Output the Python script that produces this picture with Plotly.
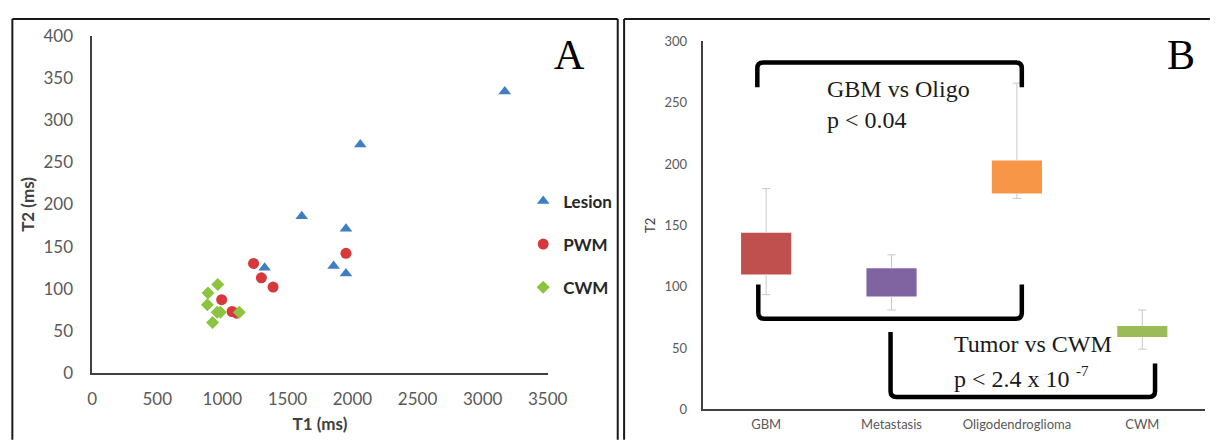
import plotly.graph_objects as go

W, H = 1225, 445

# ---------------- Panel A data (T1 vs T2, ms) ----------------
lesion_t1 = [1610, 1325, 3170, 2060, 1950, 1855, 1950]
lesion_t2 = [186, 125, 334, 271, 171, 127, 118]
pwm_t1 = [1240, 1300, 1390, 995, 1075, 1110, 1950]
pwm_t2 = [130, 113, 102, 87, 73, 71, 142]
cwm_t1 = [890, 965, 885, 960, 985, 925, 1130]
cwm_t2 = [95, 105, 81, 72, 72, 60, 72]

# ---------------- Panel B data (T2 by group) ----------------
groups = ["GBM", "Metastasis", "Oligodendroglioma", "CWM"]
box_low = [110, 92, 176, 59]
box_high = [144, 115, 203, 68]
whisk_low = [93.5, 81, 172, 49]
whisk_high = [180, 126, 266, 81]
bar_colors = ["#C0504D", "#8064A2", "#F79646", "#9BBB59"]

x_ticks_a = [0, 500, 1000, 1500, 2000, 2500, 3000, 3500]
y_ticks_a = [0, 50, 100, 150, 200, 250, 300, 350, 400]
y_ticks_b = [0, 50, 100, 150, 200, 250, 300]


def px(x):
    return x / W


def py(y):
    return 1 - y / H


fig = go.Figure()

fig.add_trace(go.Scatter(x=lesion_t1, y=lesion_t2, mode="markers", name="Lesion",
                         legendgroup="a",
                         marker=dict(symbol="triangle-up", size=11, color="#3F7FC1"),
                         xaxis="x", yaxis="y"))
fig.add_trace(go.Scatter(x=pwm_t1, y=pwm_t2, mode="markers", name="PWM",
                         legendgroup="b",
                         marker=dict(symbol="circle", size=11, color="#D7383B"),
                         xaxis="x", yaxis="y"))
fig.add_trace(go.Scatter(x=cwm_t1, y=cwm_t2, mode="markers", name="CWM",
                         legendgroup="c",
                         marker=dict(symbol="diamond", size=10, color="#8CC43F"),
                         xaxis="x", yaxis="y"))

# Panel B floating boxes
fig.add_trace(go.Bar(x=groups, y=[h - l for h, l in zip(box_high, box_low)], base=box_low,
                     marker=dict(color=bar_colors, line=dict(width=0)), width=0.4,
                     showlegend=False, xaxis="x2", yaxis="y2"))

# whiskers
wx, wy = [], []
for g, bl, bh, wl, wh in zip(groups, box_low, box_high, whisk_low, whisk_high):
    wx += [g, g, None, g, g, None]
    wy += [bh, wh, None, bl, wl, None]
fig.add_trace(go.Scatter(x=wx, y=wy, mode="lines", line=dict(color="#C8C8C8", width=1),
                         showlegend=False, hoverinfo="skip", xaxis="x2", yaxis="y2"))
fig.add_trace(go.Scatter(x=groups + groups, y=whisk_high + whisk_low, mode="markers",
                         marker=dict(symbol="line-ew", size=6,
                                     line=dict(color="#C8C8C8", width=1)),
                         showlegend=False, hoverinfo="skip", xaxis="x2", yaxis="y2"))

tick_font_a = dict(family="Lato", size=17, color="#595959")
tick_font_b = dict(family="Lato", size=13, color="#595959")
axis_line = "#404040"

fig.update_layout(
    width=W, height=H, autosize=False,
    margin=dict(l=0, r=0, t=0, b=0),
    paper_bgcolor="white", plot_bgcolor="white",
    xaxis=dict(domain=[px(89), px(554)], range=[0, 3500], anchor="y",
               tickvals=x_ticks_a, ticks="", showgrid=False, zeroline=False,
               showline=True, linecolor=axis_line, linewidth=1.5,
               tickfont=tick_font_a, ticklabelstandoff=10,
               title=dict(text="<b>T1 (ms)</b>", font=dict(family="Lato", size=17, color="#404040"),
                          standoff=10)),
    yaxis=dict(domain=[py(380), py(26)], range=[0, 400], anchor="x",
               tickvals=y_ticks_a, ticks="", showgrid=False, zeroline=False,
               showline=True, linecolor=axis_line, linewidth=1.5,
               tickfont=tick_font_a, ticklabelstandoff=14,
               title=dict(text="<b>T2 (ms)</b>", font=dict(family="Lato", size=17, color="#404040"),
                          standoff=4)),
    xaxis2=dict(domain=[px(713), 1.0], range=[-0.5, 3.5], anchor="y2", type="category",
                ticks="", showgrid=False, zeroline=False,
                showline=True, linecolor=axis_line, linewidth=1.5,
                tickfont=tick_font_b, ticklabelstandoff=2),
    yaxis2=dict(domain=[py(418), py(32)], range=[0, 300], anchor="x2",
                tickvals=y_ticks_b, ticks="", showgrid=False, zeroline=False,
                showline=True, linecolor=axis_line, linewidth=1.5,
                tickfont=tick_font_b, ticklabelstandoff=12,
                title=dict(text="T2", font=dict(family="Lato", size=13, color="#404040"),
                           standoff=6)),
    legend=dict(x=px(529), y=py(245), xanchor="left", yanchor="middle",
                font=dict(family="Lato", size=17, color="#262626", weight="bold"),
                tracegroupgap=18, bgcolor="rgba(0,0,0,0)", itemwidth=30),
    bargap=0.6,
)

serif = "Liberation Serif"
ann = [
    dict(text="A", x=px(576), y=py(46), font=dict(family=serif, size=42, color="black")),
    dict(text="B", x=px(1200), y=py(46), font=dict(family=serif, size=42, color="black")),
    dict(text="GBM vs Oligo<br>p < 0.04", x=px(837), y=py(66), xanchor="left", yanchor="top",
         align="left", font=dict(family=serif, size=24, color="#1a1a1a")),
    dict(text="Tumor vs CWM", x=px(967), y=py(349), xanchor="left", yanchor="middle",
         font=dict(family=serif, size=24, color="#1a1a1a")),
    dict(text="p < 2.4 x 10", x=px(967), y=py(386), xanchor="left", yanchor="middle",
         font=dict(family=serif, size=24, color="#1a1a1a")),
    dict(text="-7", x=px(1091), y=py(378), xanchor="left", yanchor="middle",
         font=dict(family=serif, size=15, color="#1a1a1a")),
]
for a in ann:
    a.setdefault("xanchor", "center")
    a.setdefault("yanchor", "middle")
    a.update(xref="paper", yref="paper", showarrow=False)
fig.update_layout(annotations=ann)


def bracket(pts, r=6):
    (x0, y0), (x1, y1), (x2, y2), (x3, y3) = pts
    s1 = 1 if y1 > y0 else -1
    s2 = 1 if y3 > y2 else -1
    d = [f"M {px(x0)},{py(y0)}",
         f"L {px(x1)},{py(y1 - s1 * r)}",
         f"Q {px(x1)},{py(y1)} {px(x1 + r)},{py(y1)}",
         f"L {px(x2 - r)},{py(y2)}",
         f"Q {px(x2)},{py(y2)} {px(x2)},{py(y2 + s2 * r)}",
         f"L {px(x3)},{py(y3)}"]
    return dict(type="path", path=" ".join(d), xref="paper", yref="paper",
                line=dict(color="black", width=4.5))


shapes = [
    bracket([(768, 80), (768, 54), (1038, 54), (1038, 80)]),
    bracket([(769, 287), (769, 323), (1038, 323), (1038, 287)]),
    bracket([(904, 337), (904, 405), (1174, 405), (1174, 370)]),
]
border = dict(color="#1a1a1a", width=2)
for (x0, y0, x1, y1) in [(7.5, 8.5, 7.5, 450), (7.5, 8.5, 625.5, 8.5), (625.5, 8.5, 625.5, 450),
                         (632, 8.5, 632, 450), (632, 8.5, 1230, 8.5)]:
    shapes.append(dict(type="line", xref="paper", yref="paper",
                       x0=px(x0), y0=py(y0), x1=px(x1), y1=py(y1), line=border))
fig.update_layout(shapes=shapes)

fig.write_html("out.html", config={"displayModeBar": False},
               post_script="document.body.style.margin='0';")
